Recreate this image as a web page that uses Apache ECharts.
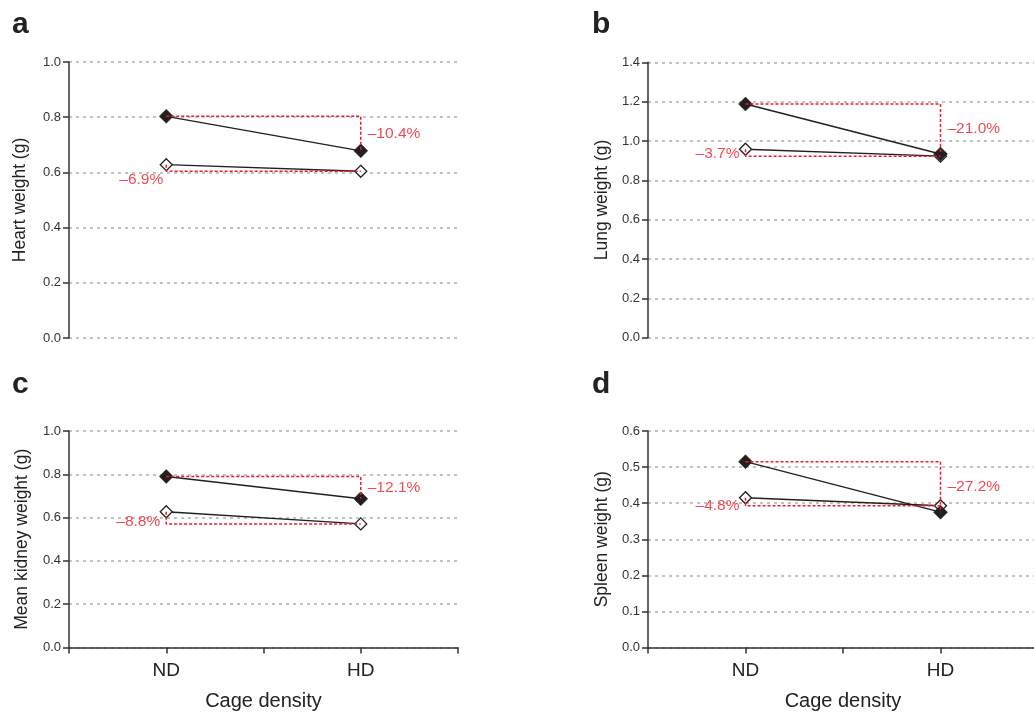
<!DOCTYPE html>
<html>
<head>
<meta charset="utf-8">
<script src="https://cdn.jsdelivr.net/npm/echarts@6/dist/echarts.min.js"></script>
<style>
html,body{margin:0;padding:0;background:#fff;}
#chart{width:1034px;height:713px;}
</style>
</head>
<body>
<div id="chart"></div>
<script>
// ---- data ----
const categories = ['ND', 'HD'];
const heartFilled = [0.803, 0.678];
const heartOpen = [0.628, 0.604];
const lungFilled = [1.188, 0.934];
const lungOpen = [0.958, 0.923];
const kidneyFilled = [0.790, 0.687];
const kidneyOpen = [0.627, 0.571];
const spleenFilled = [0.515, 0.375];
const spleenOpen = [0.415, 0.393];
const filledPct = ['–10.4%', '–21.0%', '–12.1%', '–27.2%'];
const openPct = ['–6.9%', '–3.7%', '–8.8%', '–4.8%'];
const yNames = ['Heart weight (g)', 'Lung weight (g)', 'Mean kidney weight (g)', 'Spleen weight (g)'];
const yMax = [1.0, 1.4, 1.0, 0.6];
const yStep = [0.2, 0.2, 0.2, 0.1];
const panelLetters = ['a', 'b', 'c', 'd'];
const xName = 'Cage density';

// ---- layout / style ----
const FONT = "'Liberation Sans', Arial, Helvetica, sans-serif";
const AXIS = '#333333';
const INK = '#231f20';
const RED = '#ec1c28';
const GRIDC = '#b0b0b0';

const panels = [
  {filled: heartFilled, open: heartOpen, grid: {left: 69, top: 62, width: 389, height: 276}, showX: false, nameGap: 40, openOffset: [3, 8]},
  {filled: lungFilled, open: lungOpen, grid: {left: 648, top: 62.3, width: 390, height: 275.4}, showX: false, nameGap: 37, openOffset: [0, -2]},
  {filled: kidneyFilled, open: kidneyOpen, grid: {left: 69, top: 431, width: 389, height: 216.5}, showX: true, nameGap: 38, openOffset: [0, -2]},
  {filled: spleenFilled, open: spleenOpen, grid: {left: 648, top: 431, width: 390, height: 216.5}, showX: true, nameGap: 37, openOffset: [0, 0]}
];
const letterPos = [[12, 25], [592, 25], [12, 385], [592, 385]];

const xPos = j => 1 + 2 * j;

const grids = [], xAxes = [], yAxes = [], series = [];
panels.forEach((p, i) => {
  grids.push(Object.assign({containLabel: false, outerBoundsMode: 'none'}, p.grid));
  xAxes.push({
    gridIndex: i, type: 'value', min: 0, max: 4, interval: 1,
    show: p.showX,
    name: xName, nameLocation: 'middle', nameGap: 44,
    nameTextStyle: {fontFamily: FONT, fontSize: 20, color: '#222'},
    axisLine: {show: true, onZero: false, lineStyle: {color: AXIS, width: 1.5}},
    axisTick: {show: true, length: 6, lineStyle: {color: AXIS, width: 1.5}},
    splitLine: {show: false},
    axisLabel: {
      show: true, margin: 14, fontFamily: FONT, fontSize: 19, color: '#222',
      formatter: v => (v % 2 === 1 ? categories[(v - 1) / 2] : '')
    }
  });
  yAxes.push({
    gridIndex: i, type: 'value', min: 0, max: yMax[i], interval: yStep[i],
    name: yNames[i], nameLocation: 'middle', nameGap: p.nameGap,
    nameTextStyle: {fontFamily: FONT, fontSize: 17.5, color: '#222'},
    axisLine: {show: true, onZero: false, lineStyle: {color: AXIS, width: 1.5}},
    axisTick: {show: true, length: 6, lineStyle: {color: AXIS, width: 1.5}},
    axisLabel: {margin: 8, fontFamily: FONT, fontSize: 13, color: '#333', formatter: v => v.toFixed(1)},
    splitLine: {show: true, lineStyle: {color: GRIDC, width: 1.5, type: [3, 4]}}
  });
  const f = p.filled, o = p.open;
  series.push({
    type: 'line', xAxisIndex: i, yAxisIndex: i, z: 2,
    data: categories.map((c, j) => [xPos(j), o[j]]),
    symbol: 'diamond', symbolSize: 12,
    itemStyle: {color: '#fff', borderColor: INK, borderWidth: 1.3},
    lineStyle: {color: INK, width: 1.4}
  });
  series.push({
    type: 'line', xAxisIndex: i, yAxisIndex: i, z: 3,
    data: categories.map((c, j) => [xPos(j), f[j]]),
    symbol: 'diamond', symbolSize: 14,
    itemStyle: {color: INK, borderColor: INK, borderWidth: 0.5},
    lineStyle: {color: INK, width: 1.4}
  });
  series.push({
    type: 'line', xAxisIndex: i, yAxisIndex: i, z: 4, symbol: 'none',
    data: [[xPos(0), f[0]], [xPos(1), f[0]], [xPos(1), f[1]]],
    lineStyle: {color: RED, width: 1.5, type: [3, 2]}
  });
  series.push({
    type: 'line', xAxisIndex: i, yAxisIndex: i, z: 4, symbol: 'none',
    data: [[xPos(0), o[0]], [xPos(0), o[1]], [xPos(1), o[1]]],
    lineStyle: {color: RED, width: 1.5, type: [3, 2]}
  });
  series.push({
    type: 'scatter', xAxisIndex: i, yAxisIndex: i, z: 5, symbolSize: 0,
    data: [
      {value: [xPos(1), (f[0] + f[1]) / 2],
       label: {show: true, position: 'right', distance: 7, formatter: filledPct[i]}},
      {value: [xPos(0), o[1]],
       label: {show: true, position: 'left', distance: 6, offset: p.openOffset, formatter: openPct[i]}}
    ],
    label: {fontFamily: FONT, fontSize: 15.5, color: RED}
  });
});

const chart = echarts.init(document.getElementById('chart'), null, {renderer: 'canvas'});
chart.setOption({
  animation: false,
  backgroundColor: '#fff',
  grid: grids, xAxis: xAxes, yAxis: yAxes, series: series,
  graphic: panelLetters.map((t, i) => ({
    type: 'text', x: letterPos[i][0], y: letterPos[i][1],
    style: {text: t, font: "bold 30px " + FONT, fill: '#222', verticalAlign: 'middle', align: 'left'}
  }))
});
</script>
</body>
</html>
